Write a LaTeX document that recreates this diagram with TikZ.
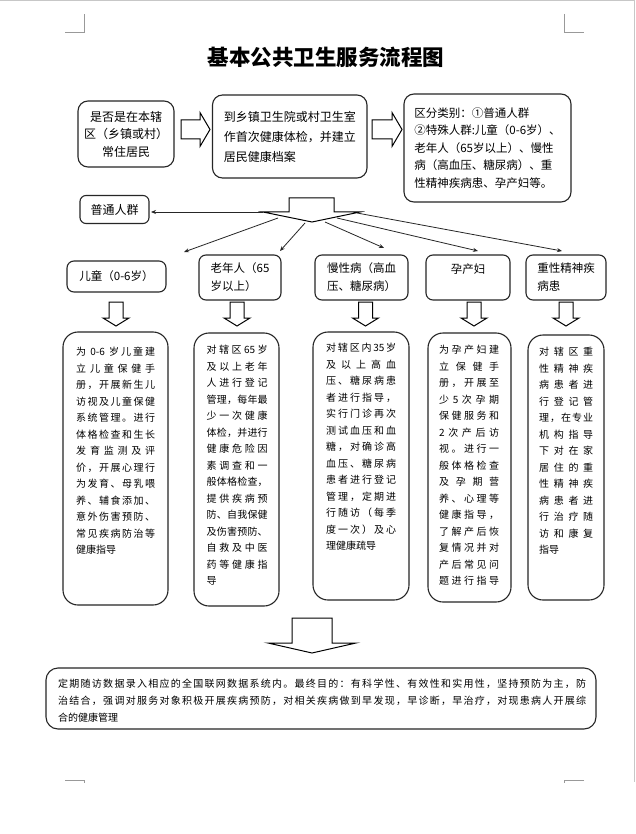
\documentclass[tikz,border=0pt]{standalone}
\usepackage{fontspec}
\setmainfont{Noto Sans CJK SC}
\usetikzlibrary{arrows.meta}
\def\jlA#1{#1\jlB}
\def\jlB#1{\ifx\relax#1\else\hfill#1\expandafter\jlB\fi}
\newlength\jw
\newcommand\JJ[1]{\hbox to\jw{\jlA#1\relax}}
\newcommand\JN[1]{\hbox to\jw{#1\hfil}}
\newcommand\darr[6]{\draw[blk] ({#1-#5},#2) -- ({#1+#5},#2) -- ({#1+#5},#3) -- ({#1+#6},#3) -- (#1,#4) -- ({#1-#6},#3) -- ({#1-#5},#3) -- cycle;}
\newcommand\rarr[6]{\draw[blk] (#1,{#4-#5}) -- (#2,{#4-#5}) -- (#2,{#4-#6}) -- (#3,#4) -- (#2,{#4+#6}) -- (#2,{#4+#5}) -- (#1,{#4+#5}) -- cycle;}
\begin{document}
\begin{tikzpicture}[x=1pt,y=-1pt,
  box/.style={draw=black!85, line width=1.1pt, rounded corners=10pt, fill=white, inner sep=0pt, align=center},
  catbox/.style={box, rounded corners=7pt, minimum height=45pt, font=\fontsize{11.5}{18}\selectfont, align=left},
  longbox/.style={box, rounded corners=15pt},
  longtxt/.style={inner sep=0pt, anchor=north west, font=\fontsize{10}{16.5}\selectfont},
  blk/.style={draw=black, line width=1pt, fill=white, line join=miter},
  conn/.style={draw=black!85, line width=0.8pt, -{Stealth[length=5pt,width=4pt]}},
  pgmark/.style={draw=black!40, line width=0.8pt}]
\useasboundingbox (0,0) rectangle (635,834);
\fill[white] (0,0) rectangle (635,834);
% page marks
\draw[black!22, line width=1pt] (0,0.5) -- (634.5,0.5) -- (634.5,782);
\draw[pgmark] (65,32) -- (84,32) -- (84,14);
\draw[pgmark] (564,14) -- (564,32) -- (584,32);
\draw[pgmark] (65,780) -- (84,780) -- (84,783);
\draw[pgmark] (584,780) -- (564,780) -- (564,783);
% title
\node[font=\fontsize{21.5}{24}\selectfont\bfseries] (title) at (326,57) {基本公共卫生服务流程图};
% top row
\node[box, minimum width=96pt, minimum height=66pt, font=\fontsize{12}{17.5}\selectfont] (b1) at (126,134) {是否是在本辖\\区（乡镇或村）\\常住居民};
\node[box, minimum width=154.5pt, minimum height=83pt, font=\fontsize{12}{20}\selectfont, align=left] (b2) at (289.75,136.5) {到乡镇卫生院或村卫生室\\作首次健康体检，并建立\\居民健康档案};
\node[box, minimum width=167pt, minimum height=108pt, font=\fontsize{11.5}{17.5}\selectfont, align=left] (b3) at (487.5,148) {区分类别：①普通人群\\②特殊人群:儿童（0-6岁）、\\老年人（65岁以上）、慢性\\病（高血压、糖尿病）、重\\性精神疾病患、孕产妇等。};
\rarr{181}{200}{210}{129.5}{9.5}{17}
\rarr{372}{392}{402}{129.5}{9.5}{17}
% distributor
\draw[blk] (289,212) -- (289,198) -- (334,198) -- (334,212) -- (360,212) -- (312,222) -- (263,212) -- cycle;
\node[box, rounded corners=6pt, minimum width=69pt, minimum height=28pt, font=\fontsize{12}{14}\selectfont] (pt) at (114.5,209.5) {普通人群};
% categories
\node[catbox, minimum width=99pt, minimum height=31pt, align=center] (c1) at (116.5,276.5) {儿童（0-6岁）};
\node[catbox, minimum width=82pt] (c2) at (240,277.5) {老年人（65\\岁以上）};
\node[catbox, minimum width=93pt] (c3) at (361.5,277.5) {慢性病（高血\\压、糖尿病）};
\node[catbox, minimum width=84pt, align=center] (c4) at (468,277.5) {孕产妇\\\mbox{}};
\node[catbox, minimum width=80pt] (c5) at (566,277.5) {重性精神疾\\病患};
% connectors
\coordinate (s0) at (263,212); \coordinate (e0) at (151,212);
\coordinate (s1) at (278,218); \coordinate (e1) at (184,252);
\coordinate (s2) at (305,223); \coordinate (e2) at (280,251);
\coordinate (s3) at (325,222); \coordinate (e3) at (384,248);
\coordinate (s4) at (337,218); \coordinate (e4) at (478,251);
\coordinate (s5) at (357,213); \coordinate (e5) at (562,251);
\draw[conn] (s0) -- (e0);
\draw[conn] (s1) -- (e1);
\draw[conn] (s2) -- (e2);
\draw[conn] (s3) -- (e3);
\draw[conn] (s4) -- (e4);
\draw[conn] (s5) -- (e5);
% small down arrows
\darr{116}{302}{318}{326}{7}{13}
\darr{237}{302}{318}{326}{7}{13}
\darr{365.5}{302}{318}{326}{7}{13}
\darr{474}{302}{318}{326}{7}{13}
\darr{566}{302}{318}{326}{7}{13}
% long boxes
\node[longbox, minimum width=105pt, minimum height=273pt] (l1) at (115.5,468.5) {};
\node[longbox, minimum width=85pt, minimum height=273pt] (l2) at (236.5,469.5) {};
\node[longbox, minimum width=96pt, minimum height=268pt] (l3) at (361,466) {};
\node[longbox, minimum width=83pt, minimum height=269pt] (l4) at (469.5,467.5) {};
\node[longbox, minimum width=76pt, minimum height=265pt] (l5) at (566,467.5) {};
\node[longtxt] (t1) at (76,347) {\setlength\jw{79pt}\vbox{%
\JJ{为{ 0-6 }岁儿童建}\JJ{立儿童保健手}\JJ{册，开展新生儿}\JJ{访视及儿童保健}\JJ{系统管理。进行}\JJ{体格检查和生长}\JJ{发育监测及评}\JJ{价，开展心理行}\JJ{为发育、母乳喂}\JJ{养、辅食添加、}\JJ{意外伤害预防、}\JJ{常见疾病防治等}\JN{健康指导}}};
\node[longtxt] (t2) at (206.5,345.3) {\setlength\jw{61pt}\vbox{%
\JJ{对辖区{65}岁}\JJ{及以上老年}\JJ{人进行登记}\JJ{管理，每年最}\JJ{少一次健康}\JJ{体检，并进行}\JJ{健康危险因}\JJ{素调查和一}\JJ{般体格检查，}\JJ{提供疾病预}\JJ{防、自我保健}\JJ{及伤害预防、}\JJ{自救及中医}\JJ{药等健康指}\JN{导}}};
\node[longtxt] (t3) at (326,343.3) {\setlength\jw{70pt}\vbox{%
\JJ{对辖区内{35}岁}\JJ{及以上高血}\JJ{压、糖尿病患}\JJ{者进行指导，}\JJ{实行门诊再次}\JJ{测试血压和血}\JJ{糖，对确诊高}\JJ{血压、糖尿病}\JJ{患者进行登记}\JJ{管理，定期进}\JJ{行随访（每季}\JJ{度一次）及心}\JN{理健康疏导}}};
\node[longtxt] (t4) at (439,345.3) {\setlength\jw{60pt}\vbox{%
\JJ{为孕产妇建}\JJ{立保健手}\JJ{册，开展至}\JJ{少5次孕期}\JJ{保健服务和}\JJ{2次产后访}\JJ{视。进行一}\JJ{般体格检查}\JJ{及孕期营}\JJ{养、心理等}\JJ{健康指导，}\JJ{了解产后恢}\JJ{复情况并对}\JJ{产后常见问}\JJ{题进行指导}}};
\node[longtxt] (t5) at (539,347) {\setlength\jw{54pt}\vbox{%
\JJ{对辖区重}\JJ{性精神疾}\JJ{病患者进}\JJ{行登记管}\JJ{理，在专业}\JJ{机构指导}\JJ{下对在家}\JJ{居住的重}\JJ{性精神疾}\JJ{病患者进}\JJ{行治疗随}\JJ{访和康复}\JN{指导}}};
% big arrow and bottom box
\darr{312}{618}{643}{653}{20}{44}
\node[box, rounded corners=12pt, minimum width=550pt, minimum height=61pt] (bot) at (321,698.5) {};
\node[longtxt, font=\fontsize{10}{17}\selectfont] (tb) at (58,678.3) {\setlength\jw{528pt}\vbox{%
\JJ{定期随访数据录入相应的全国联网数据系统内。最终目的：有科学性、有效性和实用性，坚持预防为主，防}%
\JJ{治结合，强调对服务对象积极开展疾病预防，对相关疾病做到早发现，早诊断，早治疗，对现患病人开展综}%
\JN{合的健康管理}}};
\end{tikzpicture}
\end{document}
